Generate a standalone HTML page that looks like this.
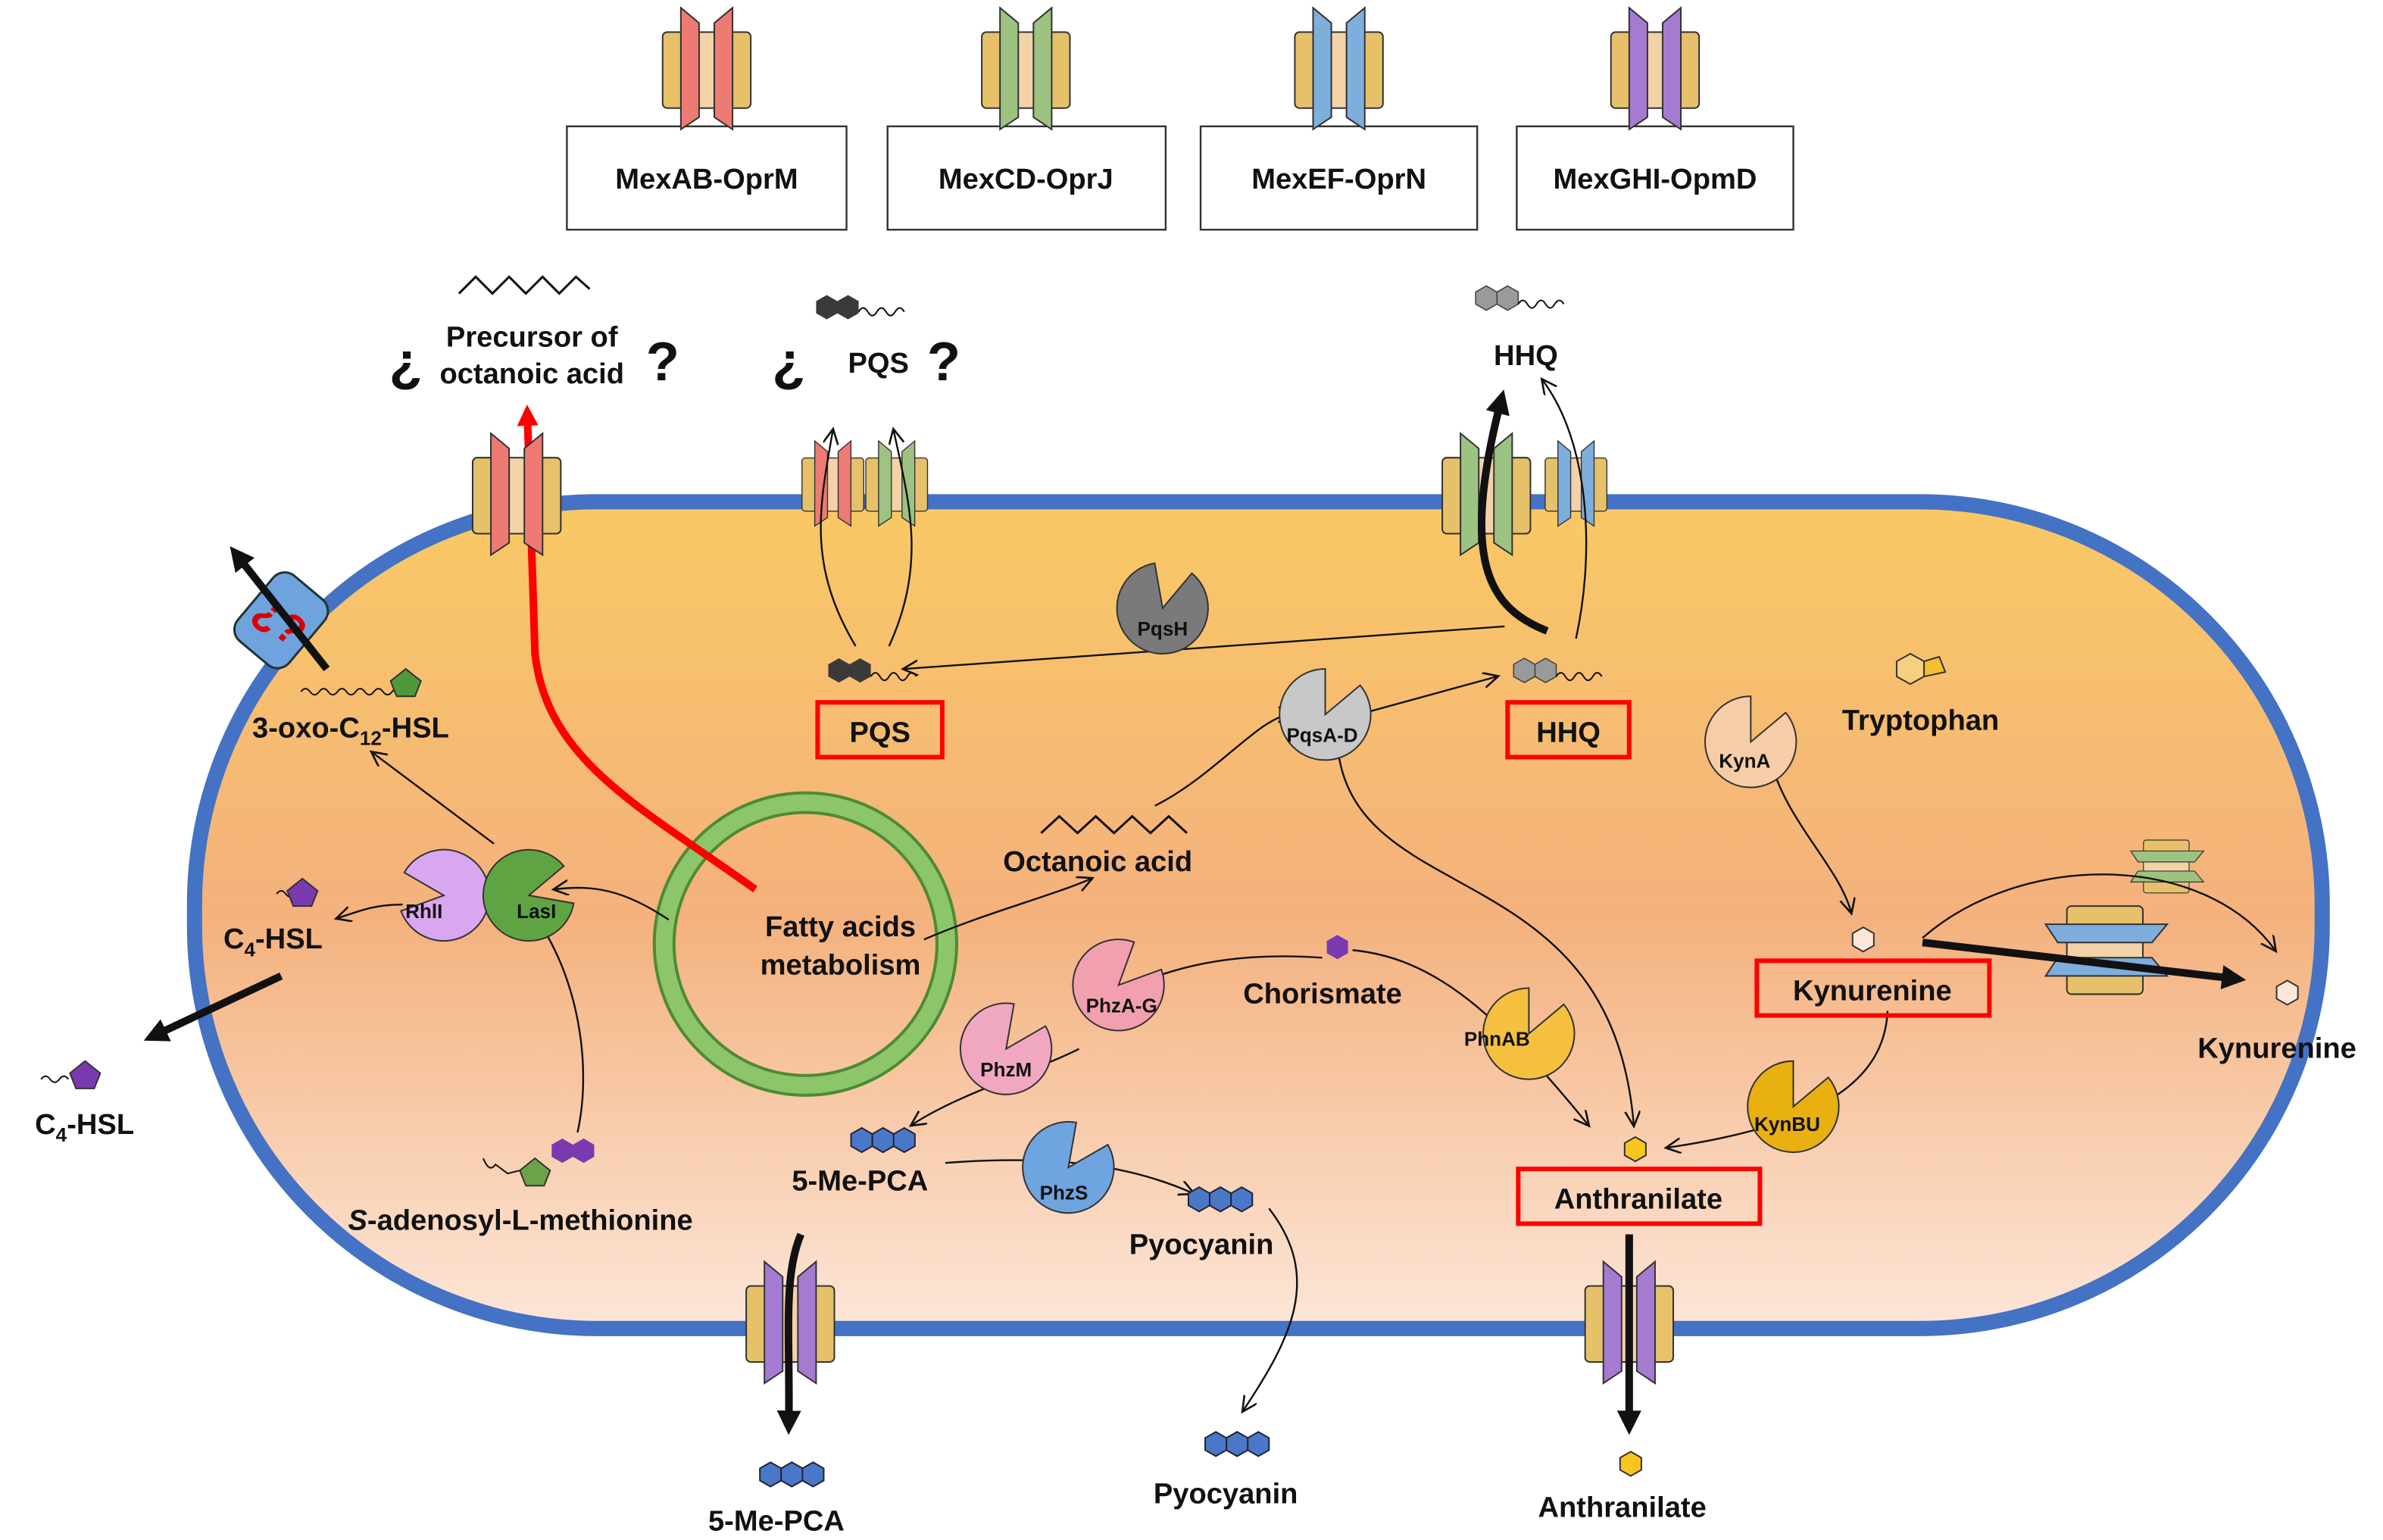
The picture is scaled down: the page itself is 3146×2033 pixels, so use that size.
<!DOCTYPE html>
<html><head><meta charset="utf-8"><style>
html,body{margin:0;padding:0;background:#fff}
svg{display:block}
text{font-family:"Liberation Sans",Arial,sans-serif;font-weight:bold;fill:#111}
</style></head><body>
<svg width="3146" height="2033" viewBox="0 0 1568 1013" xmlns="http://www.w3.org/2000/svg">
<defs>
<linearGradient id="cell" x1="0" y1="0" x2="0" y2="1">
<stop offset="0" stop-color="#F9C964"/><stop offset="0.5" stop-color="#F4B17D"/><stop offset="1" stop-color="#FCE6D8"/>
</linearGradient>
<marker id="ar" markerWidth="12" markerHeight="12" refX="9" refY="5" orient="auto" markerUnits="userSpaceOnUse">
<path d="M0,0 L10,5 L0,10" fill="none" stroke="#111" stroke-width="1.3"/></marker>
<marker id="arb" markerWidth="18" markerHeight="18" refX="10" refY="8" orient="auto" markerUnits="userSpaceOnUse">
<path d="M0,0 L16,8 L0,16 Z" fill="#111"/></marker>
<marker id="arr" markerWidth="16" markerHeight="16" refX="8" refY="7" orient="auto" markerUnits="userSpaceOnUse">
<path d="M0,0 L14,7 L0,14 Z" fill="#f00"/></marker>
<g id="pump">
<rect x="-29" y="16" width="15" height="50" rx="3" fill="#E6C16A" stroke="#333" stroke-width="1"/>
<rect x="14" y="16" width="15" height="50" rx="3" fill="#E6C16A" stroke="#333" stroke-width="1"/>
<rect x="-7" y="16" width="14" height="50" fill="#F3D2A8" stroke="#333" stroke-width="1"/>
<path d="M-17,0 L-5,10 L-5,72 L-17,80 Z" fill="currentColor" stroke="#333" stroke-width="1"/>
<path d="M17,0 L5,10 L5,72 L17,80 Z" fill="currentColor" stroke="#333" stroke-width="1"/>
</g>
<path id="pac" d="M0,0 L29.5,-5.2 A30,30 0 1,1 15,-26 Z"/>
<g id="hex2"><path d="M0,-8 L7,-4 L7,4 L0,8 L-7,4 L-7,-4 Z M14,-8 L21,-4 L21,4 L14,8 L7,4 L7,-4 Z"/></g>
</defs>

<g stroke="#333" stroke-width="1.2" fill="#fff">
<rect x="373" y="83" width="184" height="68"/><rect x="584" y="83" width="183" height="68"/>
<rect x="790" y="83" width="182" height="68"/><rect x="998" y="83" width="182" height="68"/>
</g>
<use href="#pump" x="465" y="5" style="color:#EE7A74"/>
<use href="#pump" x="675" y="5" style="color:#9DC383"/>
<use href="#pump" x="881" y="5" style="color:#7EAEDC"/>
<use href="#pump" x="1089" y="5" style="color:#A57BD1"/>
<g font-size="19" text-anchor="middle">
<text x="465" y="124">MexAB-OprM</text><text x="675" y="124">MexCD-OprJ</text>
<text x="881" y="124">MexEF-OprN</text><text x="1089" y="124">MexGHI-OpmD</text>
</g>

<rect x="128" y="330" width="1400" height="544" rx="265" ry="265" fill="url(#cell)" stroke="#4472C4" stroke-width="10"/>

<circle cx="530" cy="621" r="93" fill="none" stroke="#4E8A35" stroke-width="15"/>
<circle cx="530" cy="621" r="93" fill="none" stroke="#8CC56A" stroke-width="11"/>
<text x="553" y="616" font-size="19" text-anchor="middle">Fatty acids</text>
<text x="553" y="641" font-size="19" text-anchor="middle">metabolism</text>

<path d="M497,585 C420,530 360,500 352,430 L347,272" fill="none" stroke="#f00" stroke-width="5" marker-end="url(#arr)"/>

<use href="#pump" x="340" y="285" style="color:#EE7A74"/>
<g transform="translate(548,290) scale(0.7)"><use href="#pump" style="color:#EE7A74"/></g>
<g transform="translate(590,290) scale(0.7)"><use href="#pump" style="color:#9DC383"/></g>
<use href="#pump" x="978" y="285" style="color:#9DC383"/>
<g transform="translate(1037,290) scale(0.7)"><use href="#pump" style="color:#7EAEDC"/></g>
<use href="#pump" x="520" y="830" style="color:#A57BD1"/>
<use href="#pump" x="1072" y="830" style="color:#A57BD1"/>
<g transform="translate(1450,570) rotate(90) scale(0.6)"><use href="#pump" style="color:#9DC383"/></g>
<g transform="translate(1426,625) rotate(90)"><use href="#pump" style="color:#7EAEDC"/></g>

<g transform="translate(185,408) rotate(40)">
<rect x="-22" y="-28" width="44" height="56" rx="10" fill="#6FA3DD" stroke="#233" stroke-width="1.5"/>
<text x="0" y="10" font-size="28" text-anchor="middle" style="fill:#d00">¿?</text>
</g>
<line x1="215" y1="440" x2="155" y2="364" stroke="#111" stroke-width="5" marker-end="url(#arb)"/>

<polyline points="302,193 313,182 324,193 335,182 346,193 357,182 368,193 379,182 388,190" fill="none" stroke="#111" stroke-width="1.5"/>
<text x="256" y="250" font-size="36">¿</text>
<text x="350" y="228" font-size="19" text-anchor="middle">Precursor of</text>
<text x="350" y="252" font-size="19" text-anchor="middle">octanoic acid</text>
<text x="425" y="250" font-size="36">?</text>
<use href="#hex2" x="544" y="202" fill="#3a3a3a"/>
<path d="M565,205 q3,-5 6,0 q3,5 6,0 q3,-5 6,0 q3,5 6,0 q3,-5 6,0" fill="none" stroke="#111"/>
<text x="508" y="250" font-size="36">¿</text>
<text x="578" y="245" font-size="19" text-anchor="middle">PQS</text>
<text x="610" y="250" font-size="36">?</text>
<use href="#hex2" x="978" y="196" fill="#9a9a9a" stroke="#444" stroke-width="0.8"/>
<path d="M999,200 q3,-5 6,0 q3,5 6,0 q3,-5 6,0 q3,5 6,0 q3,-5 6,0" fill="none" stroke="#111"/>
<text x="1004" y="240" font-size="19" text-anchor="middle">HHQ</text>

<g fill="none" stroke="#111" stroke-width="1.2" marker-end="url(#ar)">
<path d="M563,425 C530,370 540,330 548,283"/>
<path d="M585,425 C610,370 598,330 588,283"/>
<path d="M1037,420 C1050,360 1045,290 1015,250"/>
<path d="M990,412 L595,440"/>
<path d="M850,482 L985,445"/>
<path d="M760,530 C800,510 830,470 850,470"/>
<path d="M325,555 L245,495"/>
<path d="M265,595 C245,595 235,600 222,604"/>
<path d="M880,490 C890,600 1060,560 1075,740"/>
<path d="M440,605 C410,585 390,582 365,585"/>
<path d="M380,745 C390,700 380,640 350,600"/>
<path d="M608,618 C650,600 690,590 718,578"/>
<path d="M870,630 C800,625 760,640 720,660"/>
<path d="M890,625 C940,630 980,660 1045,740"/>
<path d="M710,690 C680,705 630,720 600,740"/>
<path d="M622,765 C690,760 740,765 785,785"/>
<path d="M835,795 C870,840 850,880 818,928"/>
<path d="M1165,500 C1175,540 1210,570 1218,600"/>
<path d="M1242,665 C1240,710 1200,740 1097,755"/>
<path d="M1265,617 C1330,560 1450,560 1497,625"/>
</g>
<g stroke="#111" stroke-width="5" fill="none" marker-end="url(#arb)">
<path d="M1018,415 C980,400 960,370 988,262"/>
<line x1="1265" y1="620" x2="1472" y2="644"/>
<line x1="185" y1="642" x2="100" y2="682"/>
<path d="M527,812 C515,840 520,880 519,938"/>
<line x1="1072" y1="812" x2="1072" y2="938"/>
</g>

<use href="#hex2" x="552" y="441" fill="#3a3a3a"/>
<path d="M573,445 q3,-5 6,0 q3,5 6,0 q3,-5 6,0 q3,5 6,0 q3,-5 6,0" fill="none" stroke="#111"/>
<use href="#hex2" x="1003" y="441" fill="#9a9a9a" stroke="#444" stroke-width="0.8"/>
<path d="M1024,445 q3,-5 6,0 q3,5 6,0 q3,-5 6,0 q3,5 6,0 q3,-5 6,0" fill="none" stroke="#111"/>
<path d="M198,455 q3,-4 6,0 q3,4 6,0 q3,-4 6,0 q3,4 6,0 q3,-4 6,0 q3,4 6,0 q3,-4 6,0 q3,4 6,0 q3,-4 6,0 q3,4 6,0 q3,-4 6,0" fill="none" stroke="#111"/>
<path d="M267,440 L277,448 L273,458 L261,458 L257,448 Z" fill="#4E9A3A" stroke="#333"/>
<path d="M182,588 q3,-4 6,0 q3,4 6,0 q3,-4 6,0" fill="none" stroke="#111"/>
<path d="M199,578 L209,586 L205,596 L193,596 L189,586 Z" fill="#7A3AAF" stroke="#333"/>
<path d="M27,710 q3,-4 6,0 q3,4 6,0 q3,-4 6,0" fill="none" stroke="#111"/>
<path d="M56,698 L66,706 L62,716 L50,716 L46,706 Z" fill="#7A3AAF" stroke="#333"/>
<polyline points="685,548 697,537 709,548 721,537 733,548 745,537 757,548 769,537 781,548" fill="none" stroke="#111" stroke-width="1.5"/>
<path d="M880,615 L887,619 L887,627 L880,631 L873,627 L873,619 Z" fill="#7A3AAF"/>
<path d="M318,762 q4,10 8,4 l8,6 l8,-2" fill="none" stroke="#111"/>
<path d="M352,762 L362,770 L358,780 L346,780 L342,770 Z" fill="#6BA34A" stroke="#333"/>
<use href="#hex2" x="370" y="757" fill="#7A3AAF"/>
<path d="M1257,430 L1266,435 L1266,445 L1257,450 L1248,445 L1248,435 Z" fill="#F5D080" stroke="#333"/>
<path d="M1266,435 L1276,432 L1280,442 L1266,445 Z" fill="#F5C030" stroke="#333"/>
<path d="M1226,610 L1233,614 L1233,622 L1226,626 L1219,622 L1219,614 Z" fill="#FCE6D8" stroke="#333"/>
<path d="M1505,645 L1512,649 L1512,657 L1505,661 L1498,657 L1498,649 Z" fill="#FCE6D8" stroke="#333"/>
<path d="M1076,748 L1083,752 L1083,760 L1076,764 L1069,760 L1069,752 Z" fill="#F7C520" stroke="#333"/>
<path d="M1073,955 L1080,959 L1080,967 L1073,971 L1066,967 L1066,959 Z" fill="#F7C520" stroke="#333"/>
<g fill="#4A78C8" stroke="#223">
<use href="#hex2" x="567" y="750"/><use href="#hex2" x="581" y="750"/>
<use href="#hex2" x="789" y="789"/><use href="#hex2" x="803" y="789"/>
<use href="#hex2" x="800" y="950"/><use href="#hex2" x="814" y="950"/>
<use href="#hex2" x="507" y="970"/><use href="#hex2" x="521" y="970"/>
</g>

<g stroke="#333" stroke-width="1">
<use href="#pac" transform="translate(765,400) rotate(-40)" fill="#7A7A7A"/>
<use href="#pac" transform="translate(872,470) rotate(-30)" fill="#C8C8C8"/>
<use href="#pac" transform="translate(292,589) rotate(150) scale(1,-1)" fill="#D9A6F0"/>
<use href="#pac" transform="translate(348,589) rotate(20)" fill="#5FA443"/>
<use href="#pac" transform="translate(736,648) rotate(-10)" fill="#F2A0B0"/>
<use href="#pac" transform="translate(662,690) rotate(-20)" fill="#F0A8C0"/>
<use href="#pac" transform="translate(703,768) rotate(-20)" fill="#6EA4E0"/>
<use href="#pac" transform="translate(1006,680) rotate(-30)" fill="#F5C040"/>
<use href="#pac" transform="translate(1152,488) rotate(-30)" fill="#F7CCA8"/>
<use href="#pac" transform="translate(1180,728) rotate(-30)" fill="#E8B010"/>
</g>
<g font-size="13" text-anchor="middle">
<text x="765" y="418">PqsH</text><text x="870" y="488">PqsA-D</text>
<text x="279" y="604">RhlI</text><text x="353" y="604">LasI</text>
<text x="738" y="666">PhzA-G</text><text x="662" y="708">PhzM</text>
<text x="700" y="789">PhzS</text><text x="985" y="688">PhnAB</text>
<text x="1148" y="505">KynA</text><text x="1176" y="744">KynBU</text>
</g>

<g font-size="19">
<text x="166" y="485">3-oxo-C<tspan font-size="13" dy="5">12</tspan><tspan dy="-5">-HSL</tspan></text>
<text x="147" y="624">C<tspan font-size="13" dy="5">4</tspan><tspan dy="-5">-HSL</tspan></text>
<text x="23" y="746">C<tspan font-size="13" dy="5">4</tspan><tspan dy="-5">-HSL</tspan></text>
<text x="1212" y="480">Tryptophan</text>
<text x="660" y="573">Octanoic acid</text>
<text x="818" y="660">Chorismate</text>
<text x="1446" y="696">Kynurenine</text>
<text x="521" y="783">5-Me-PCA</text>
<text x="743" y="825">Pyocyanin</text>
<text x="759" y="989">Pyocyanin</text>
<text x="466" y="1007">5-Me-PCA</text>
<text x="1012" y="998">Anthranilate</text>
<text x="229" y="809"><tspan font-style="italic">S</tspan>-adenosyl-L-methionine</text>
</g>
<g fill="none" stroke="#f00" stroke-width="3">
<rect x="538" y="462" width="82" height="36"/><rect x="992" y="462" width="80" height="36"/>
<rect x="1156" y="632" width="153" height="36"/><rect x="999" y="769" width="159" height="36"/>
</g>
<g font-size="19" text-anchor="middle">
<text x="579" y="488">PQS</text><text x="1032" y="488">HHQ</text>
<text x="1232" y="658">Kynurenine</text><text x="1078" y="795">Anthranilate</text>
</g>
</svg>
</body></html>
